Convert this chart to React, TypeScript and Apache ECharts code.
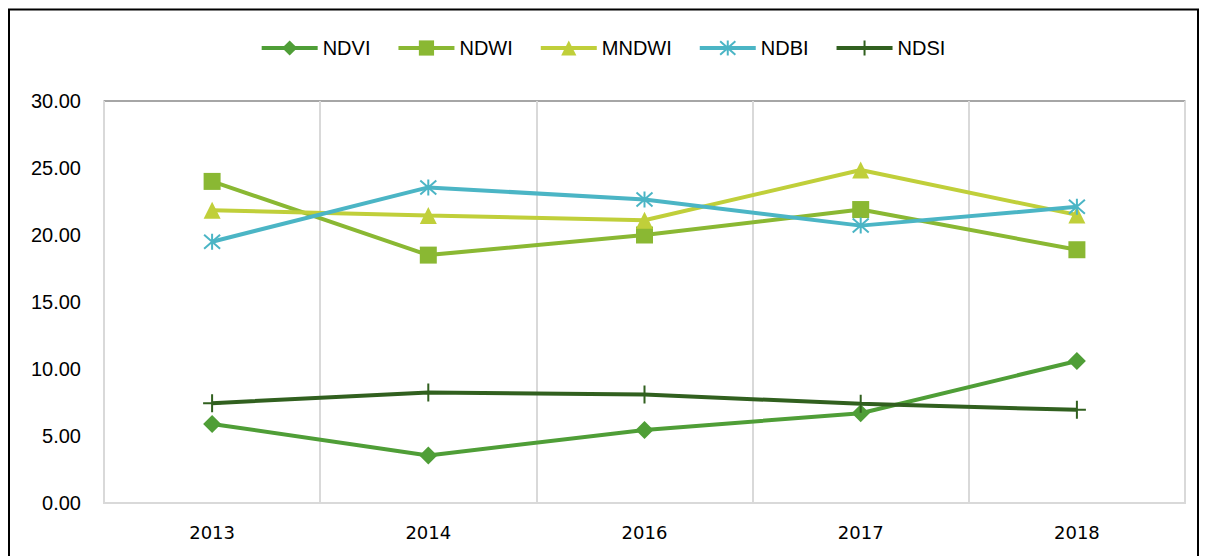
import React, { useEffect, useRef } from "react";
import * as echarts from "echarts";

const categories = ["2013", "2014", "2016", "2017", "2018"];
const ndvi = [5.9, 3.55, 5.45, 6.7, 10.6];
const ndwi = [24.0, 18.5, 20.0, 21.9, 18.9];
const mndwi = [21.85, 21.45, 21.1, 24.85, 21.5];
const ndbi = [19.5, 23.55, 22.65, 20.7, 22.1];
const ndsi = [7.45, 8.25, 8.1, 7.4, 6.95];
const yTicks = [0, 5, 10, 15, 20, 25, 30];

const FONT = "'Liberation Sans', Arial, sans-serif";

const asterisk = "path://M0,-8L0,8M-7,-7L7,7M-7,7L7,-7";
const plus = "path://M0,-10L0,10M-9,0L9,0";

export default function App() {
  const ref = useRef<HTMLDivElement>(null);
  useEffect(() => {
    if (!ref.current) return;
    const chart = echarts.init(ref.current, undefined, { renderer: "svg" });
    const mk = (name: string, data: number[], color: string, symbol: string, size: number, stroked = false) => ({
      name,
      type: "line",
      data,
      symbol,
      symbolSize: size,
      showSymbol: true,
      lineStyle: { color, width: 4 },
      itemStyle: stroked
        ? { color: "rgba(0,0,0,0)", borderColor: color, borderWidth: 2 }
        : { color, borderColor: color, borderWidth: 0 },
      emphasis: { disabled: true },
      z: 3,
    });
    chart.setOption({
      animation: false,
      backgroundColor: "#ffffff",
      legend: {
        top: 33,
        left: "center",
        itemWidth: 56,
        itemHeight: 19,
        itemGap: 26,
        lineStyle: { width: 4 },
        textStyle: { fontFamily: FONT, fontSize: 20, color: "#000" },
        data: ["NDVI", "NDWI", "MNDWI", "NDBI", "NDSI"],
      },
      grid: {
        left: 104,
        right: 20,
        top: 101,
        bottom: 53,
        show: true,
        borderColor: "#d9d9d9",
        borderWidth: 2,
      },
      xAxis: {
        type: "category",
        data: categories,
        boundaryGap: true,
        axisLine: { show: true, lineStyle: { color: "#d9d9d9", width: 2 } },
        axisTick: { show: false },
        splitLine: { show: true, lineStyle: { color: "#d9d9d9", width: 2 } },
        axisLabel: { fontFamily: "'DejaVu Sans', sans-serif", fontSize: 18, color: "#000", margin: 20 },
      },
      yAxis: {
        type: "value",
        min: yTicks[0],
        max: yTicks[yTicks.length - 1],
        interval: 5,
        axisLine: { show: false },
        axisTick: { show: false },
        splitLine: {
          show: true,
          lineStyle: {
            color: ["rgba(0,0,0,0)", "rgba(0,0,0,0)", "rgba(0,0,0,0)", "rgba(0,0,0,0)", "rgba(0,0,0,0)", "rgba(0,0,0,0)", "#a6a6a6"],
            width: 2,
          },
        },
        axisLabel: {
          fontFamily: FONT,
          fontSize: 20,
          color: "#000",
          margin: 23,
          formatter: (v: number) => v.toFixed(2),
        },
      },
      graphic: [
        {
          type: "rect",
          shape: { x: 9, y: 9.5, width: 1189, height: 570 },
          style: { fill: "none", stroke: "#000", lineWidth: 2 },
          silent: true,
        },
      ],
      series: [
        mk("NDVI", ndvi, "#4f9e37", "diamond", 18),
        mk("NDWI", ndwi, "#8ab833", "rect", 17),
        mk("MNDWI", mndwi, "#c0cf3a", "triangle", 17),
        mk("NDBI", ndbi, "#4bb5c5", asterisk, 16, true),
        mk("NDSI", ndsi, "#31601f", plus, 18, true),
      ],
    });
    return () => chart.dispose();
  }, []);
  return (
    <div
      ref={ref}
      style={{ position: "absolute", left: 0, top: 0, width: 1205, height: 556 }}
    />
  );
}
